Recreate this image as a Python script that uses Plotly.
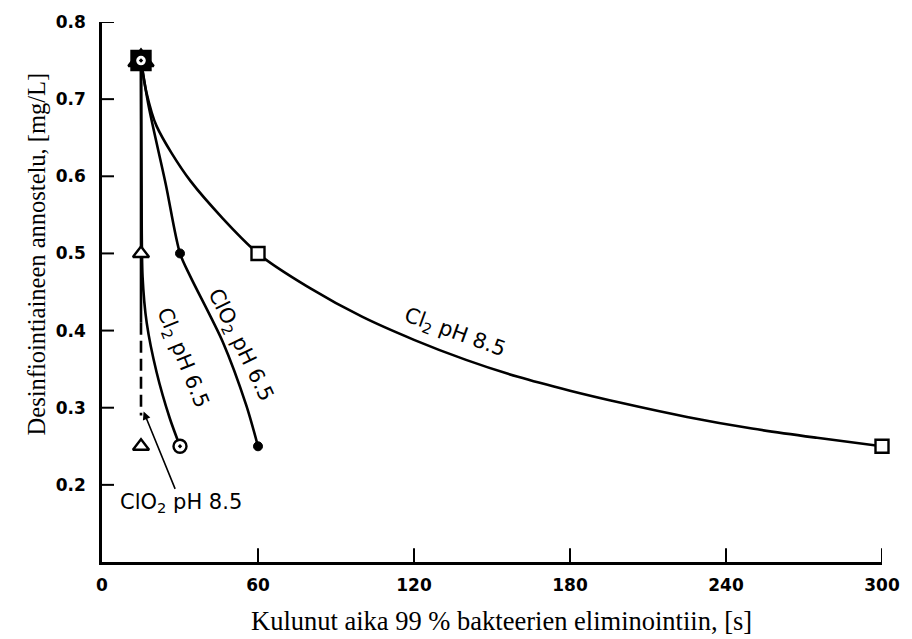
import plotly.graph_objects as go

# ---- data ----
# Cl2 pH 8.5 (open squares)
cl2_85_x = [15, 60, 300]
cl2_85_y = [0.75, 0.5, 0.25]
cl2_85_curve_x = [15, 17, 21, 34, 60, 80, 100, 120, 140, 160, 180, 200, 225, 250, 275, 300]
cl2_85_curve_y = [0.75, 0.71, 0.665, 0.594, 0.5, 0.455, 0.418, 0.388, 0.362, 0.340, 0.322, 0.306, 0.288, 0.273, 0.261, 0.25]

# ClO2 pH 6.5 (filled dots)
clo2_65_x = [15, 30, 60]
clo2_65_y = [0.75, 0.5, 0.25]
clo2_65_curve_x = [15, 18, 24.5, 30, 34, 46.5, 55.5, 60]
clo2_65_curve_y = [0.75, 0.69, 0.59, 0.5, 0.47, 0.385, 0.303, 0.25]

# Cl2 pH 6.5 (circle with dot)
cl2_65_x = [15, 30]
cl2_65_y = [0.75, 0.25]
cl2_65_curve_x = [15, 15.2, 15.6, 17.2, 21, 26, 30]
cl2_65_curve_y = [0.75, 0.6, 0.47, 0.41, 0.346, 0.287, 0.25]

# ClO2 pH 8.5 (open triangles)
clo2_85_x = [15, 15, 15]
clo2_85_y = [0.75, 0.5, 0.25]
clo2_85_solid_x = [15, 15]
clo2_85_solid_y = [0.75, 0.41]
clo2_85_dash_x = [15, 15]
clo2_85_dash_y = [0.41, 0.29]

x_ticks = [0, 60, 120, 180, 240, 300]
y_ticks = [0.2, 0.3, 0.4, 0.5, 0.6, 0.7, 0.8]
y_tick_text = ["0.2", "0.3", "0.4", "0.5", "0.6", "0.7", "0.8"]

x_title = "Kulunut aika 99 % bakteerien eliminointiin, [s]"
y_title = "Desinfiointiaineen annostelu, [mg/L]"

LW = 2.6
BLACK = "#000000"

fig = go.Figure()

def line(x, y, dash="solid"):
    fig.add_trace(go.Scatter(x=x, y=y, mode="lines", line=dict(color=BLACK, width=LW, dash=dash, shape="spline", smoothing=0.8),
                             showlegend=False, hoverinfo="skip"))

line(cl2_85_curve_x, cl2_85_curve_y)
line(clo2_65_curve_x, clo2_65_curve_y)
line(cl2_65_curve_x, cl2_65_curve_y)
fig.add_trace(go.Scatter(x=clo2_85_solid_x, y=clo2_85_solid_y, mode="lines", line=dict(color=BLACK, width=LW),
                         showlegend=False, hoverinfo="skip"))
fig.add_trace(go.Scatter(x=clo2_85_dash_x, y=clo2_85_dash_y, mode="lines", line=dict(color=BLACK, width=LW, dash="12px,6px"),
                         showlegend=False, hoverinfo="skip"))

# markers (the overlapping start point prints as a dark blob in the reference)
fig.add_trace(go.Scatter(x=cl2_85_x, y=cl2_85_y, mode="markers", cliponaxis=False,
                         marker=dict(symbol="square", size=[19, 13, 13], color=[BLACK, "white", "white"],
                                     opacity=1, line=dict(color=BLACK, width=2.4)),
                         showlegend=False))
fig.add_trace(go.Scatter(x=clo2_85_x, y=clo2_85_y, mode="markers", cliponaxis=False,
                         marker=dict(symbol="triangle-up", size=[22, 14, 14], color=[BLACK, "white", "white"],
                                     opacity=1, line=dict(color=BLACK, width=2.4)),
                         showlegend=False))
fig.add_trace(go.Scatter(x=clo2_65_x, y=clo2_65_y, mode="markers", cliponaxis=False,
                         marker=dict(symbol="circle", size=9, color=BLACK, opacity=1, line=dict(color=BLACK, width=1)),
                         showlegend=False))
fig.add_trace(go.Scatter(x=cl2_65_x, y=cl2_65_y, mode="markers", cliponaxis=False,
                         marker=dict(symbol="circle-dot", size=[12, 13], color="white", opacity=1,
                                     line=dict(color=BLACK, width=2.4)),
                         showlegend=False))

lab_font = dict(family="DejaVu Sans", size=21, color=BLACK)
fig.add_annotation(x=135.8, y=0.397, text="Cl<sub>2</sub> pH 8.5", textangle=20, showarrow=False, font=lab_font)
fig.add_annotation(x=53.1, y=0.381, text="ClO<sub>2</sub> pH 6.5", textangle=64, showarrow=False, font=lab_font)
fig.add_annotation(x=30.8, y=0.364, text="Cl<sub>2</sub> pH 6.5", textangle=68, showarrow=False, font=lab_font)
fig.add_annotation(x=16.0, y=0.295, ax=30.4, ay=0.176, axref="x", ayref="y",
                   text="ClO<sub>2</sub> pH 8.5", showarrow=True, arrowhead=2, arrowsize=1, arrowwidth=1.6,
                   arrowcolor=BLACK, font=lab_font, standoff=0)

fig.add_annotation(xref="paper", yref="paper", x=0.5128, y=-0.11, text=x_title, showarrow=False,
                   font=dict(family="Liberation Serif", size=26.5, color="black"), xanchor="center", yanchor="middle")
fig.add_annotation(xref="paper", yref="paper", x=-0.0846, y=0.5696, text=y_title, showarrow=False,
                   font=dict(family="Liberation Serif", size=24.5, color="black"),
                   textangle=-90, xanchor="center", yanchor="middle")

# inward-pointing tick marks placed on the axes' own scales
for v in y_ticks:
    fig.add_shape(type="line", xref="paper", yref="y", x0=0, x1=12 / 780, y0=v, y1=v,
                  line=dict(color=BLACK, width=2), layer="above")
for v in x_ticks[1:]:
    fig.add_shape(type="line", xref="x", yref="paper", x0=v, x1=v, y0=0, y1=14 / 546,
                  line=dict(color=BLACK, width=2), layer="above")

tick_font = dict(family="DejaVu Sans", size=17, color=BLACK)
fig.update_xaxes(range=[0, 300], tickvals=x_ticks, ticktext=["<b>%d</b>" % v for v in x_ticks],
                 showline=True, linewidth=2.6, linecolor=BLACK, ticks="",
                 showgrid=False, zeroline=False, tickfont=tick_font, ticklabelstandoff=6)
fig.update_yaxes(range=[0.1, 0.8], tickvals=y_ticks, ticktext=["<b>%s</b>" % t for t in y_tick_text],
                 showline=True, linewidth=2.6, linecolor=BLACK, ticks="",
                 showgrid=False, zeroline=False, tickfont=tick_font, ticklabelstandoff=10)

fig.update_layout(width=912, height=639, margin=dict(l=102, r=30, t=16, b=77),
                  paper_bgcolor="white", plot_bgcolor="white", showlegend=False)

fig.write_html("out.html")
